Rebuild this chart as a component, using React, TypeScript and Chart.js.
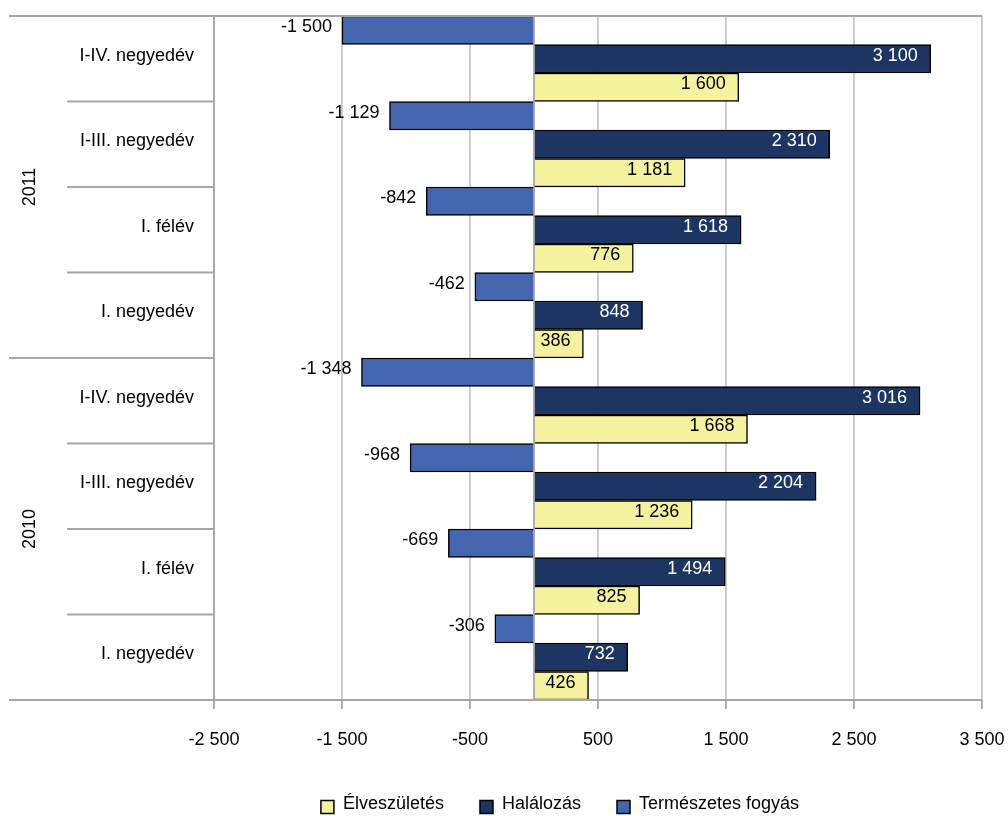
import React, { useEffect, useRef } from "react";
import { Chart, registerables } from "chart.js";

Chart.register(...registerables);

const categories = [
  "I-IV. negyedév",
  "I-III. negyedév",
  "I. félév",
  "I. negyedév",
  "I-IV. negyedév",
  "I-III. negyedév",
  "I. félév",
  "I. negyedév",
];
const years = ["2011", "2010"];
const yearGroupSize = 4;

const elveszuletes = [1600, 1181, 776, 386, 1668, 1236, 825, 426];
const halalozas = [3100, 2310, 1618, 848, 3016, 2204, 1494, 732];
const termeszetesFogyas = [-1500, -1129, -842, -462, -1348, -968, -669, -306];

const seriesNames = ["Élveszületés", "Halálozás", "Természetes fogyás"];
const xMin = -2500;
const xMax = 3500;
const xStep = 1000;

const COLORS = {
  elve: "#F4F19F",
  hal: "#1C3563",
  fogy: "#4466AF",
};

const FONT = '"Liberation Sans", Arial, sans-serif';

function fmt(v: number): string {
  const s = String(Math.abs(Math.round(v))).replace(/\B(?=(\d{3})+(?!\d))/g, " ");
  return (v < 0 ? "-" : "") + s;
}

const sidePlugin = {
  id: "sidePanel",
  afterDatasetsDraw(chart: any) {
    const ctx = chart.ctx;
    const area = chart.chartArea;
    const xs = chart.scales.x;
    ctx.save();
    // zero axis
    const x0 = xs.getPixelForValue(0);
    ctx.strokeStyle = "#A6A6A6";
    ctx.lineWidth = 1.8;
    ctx.beginPath();
    ctx.moveTo(x0, area.top);
    ctx.lineTo(x0, area.bottom);
    ctx.stroke();

    // data labels
    ctx.font = `18px ${FONT}`;
    ctx.textBaseline = "middle";
    chart.data.datasets.forEach((ds: any, di: number) => {
      const meta = chart.getDatasetMeta(di);
      meta.data.forEach((el: any, i: number) => {
        const v = ds.data[i];
        const txt = fmt(v);
        ctx.textAlign = "right";
        if (ds.labelMode === "outside") {
          ctx.fillStyle = "#000";
          ctx.fillText(txt, el.x - 10, el.y - 3);
        } else {
          ctx.fillStyle = ds.labelColor;
          ctx.fillText(txt, el.x - 13, el.y - 3);
        }
      });
    });
    ctx.restore();
  },
  afterDraw(chart: any) {
    const ctx = chart.ctx;
    const area = chart.chartArea;
    const ys = chart.scales.y;
    ctx.save();
    // outer lines
    ctx.strokeStyle = "#A6A6A6";
    ctx.lineWidth = 1.8;
    ctx.beginPath();
    ctx.moveTo(9, area.top);
    ctx.lineTo(area.right, area.top);
    ctx.moveTo(9, area.bottom);
    ctx.lineTo(area.right, area.bottom);
    ctx.moveTo(area.left, area.top);
    ctx.lineTo(area.left, area.bottom);
    ctx.stroke();

    // category separators
    for (let i = 1; i < categories.length; i++) {
      const y = ys.getPixelForValue(i - 0.5);
      const startX = i % yearGroupSize === 0 ? 9 : 67;
      ctx.beginPath();
      ctx.moveTo(startX, y);
      ctx.lineTo(area.left, y);
      ctx.stroke();
    }

    // category labels
    ctx.font = `18px ${FONT}`;
    ctx.fillStyle = "#000";
    ctx.textAlign = "right";
    ctx.textBaseline = "middle";
    categories.forEach((c, i) => {
      ctx.fillText(c, 194, ys.getPixelForValue(i) - 3);
    });

    // years (rotated)
    years.forEach((yr, g) => {
      const yc = ys.getPixelForValue(g * yearGroupSize + (yearGroupSize - 1) / 2);
      ctx.save();
      ctx.translate(30, yc);
      ctx.rotate(-Math.PI / 2);
      ctx.textAlign = "center";
      ctx.textBaseline = "middle";
      ctx.fillText(yr, 0, 0);
      ctx.restore();
    });

    // legend
    const items = [
      { label: seriesNames[0], color: COLORS.elve },
      { label: seriesNames[1], color: COLORS.hal },
      { label: seriesNames[2], color: COLORS.fogy },
    ];
    const box = 13;
    const gapText = 9;
    const gapItem = 36;
    const widths = items.map((it) => box + gapText + ctx.measureText(it.label).width);
    const total = widths.reduce((a, b) => a + b, 0) + gapItem * (items.length - 1);
    let lx = 560 - total / 2;
    const ly = 806;
    items.forEach((it, k) => {
      ctx.fillStyle = it.color;
      ctx.fillRect(lx, ly - box / 2 + 1, box, box);
      ctx.strokeStyle = "#000";
      ctx.lineWidth = 1.5;
      ctx.strokeRect(lx, ly - box / 2 + 1, box, box);
      ctx.fillStyle = "#000";
      ctx.textAlign = "left";
      ctx.textBaseline = "middle";
      ctx.fillText(it.label, lx + box + gapText, ly - 2);
      lx += widths[k] + gapItem;
    });
    ctx.restore();
  },
};

export default function App() {
  const ref = useRef<HTMLCanvasElement | null>(null);
  useEffect(() => {
    if (!ref.current) return;
    const chart = new Chart(ref.current, {
      type: "bar",
      data: {
        labels: categories,
        datasets: [
          {
            label: seriesNames[2],
            data: termeszetesFogyas,
            backgroundColor: COLORS.fogy,
            borderColor: "#000",
            borderWidth: 1.5,
            labelMode: "outside",
            labelColor: "#000",
          } as any,
          {
            label: seriesNames[1],
            data: halalozas,
            backgroundColor: COLORS.hal,
            borderColor: "#000",
            borderWidth: 1.5,
            labelMode: "inside",
            labelColor: "#FFFFFF",
          } as any,
          {
            label: seriesNames[0],
            data: elveszuletes,
            backgroundColor: COLORS.elve,
            borderColor: "#000",
            borderWidth: 1.5,
            labelMode: "inside",
            labelColor: "#000",
          } as any,
        ],
      },
      options: {
        indexAxis: "y",
        animation: false,
        responsive: true,
        maintainAspectRatio: false,
        datasets: { bar: { categoryPercentage: 1, barPercentage: 1 } },
        layout: { padding: { left: 214, right: 26, top: 16, bottom: 0 } },
        plugins: { legend: { display: false }, tooltip: { enabled: false } },
        scales: {
          x: {
            type: "linear",
            min: xMin,
            max: xMax,
            ticks: {
              stepSize: xStep,
              callback: (v: any) => fmt(Number(v)),
              color: "#000",
              font: { family: FONT, size: 18 },
              padding: 20,
              maxRotation: 0,
            },
            grid: {
              color: "#C8C8C8",
              lineWidth: 1.8,
              tickLength: 9,
              tickColor: "#A6A6A6",
              drawTicks: true,
            },
            border: { display: false },
            afterFit: (scale: any) => {
              scale.height = 116;
              scale.paddingLeft = 0;
              scale.paddingRight = 0;
            },
          },
          y: {
            type: "category",
            display: false,
            grid: { display: false },
          },
        },
      } as any,
      plugins: [sidePlugin],
    });
    return () => chart.destroy();
  }, []);
  return (
    <div style={{ position: "fixed", left: 0, top: 0, width: 1008, height: 816, background: "#fff" }}>
      <canvas ref={ref} />
    </div>
  );
}
